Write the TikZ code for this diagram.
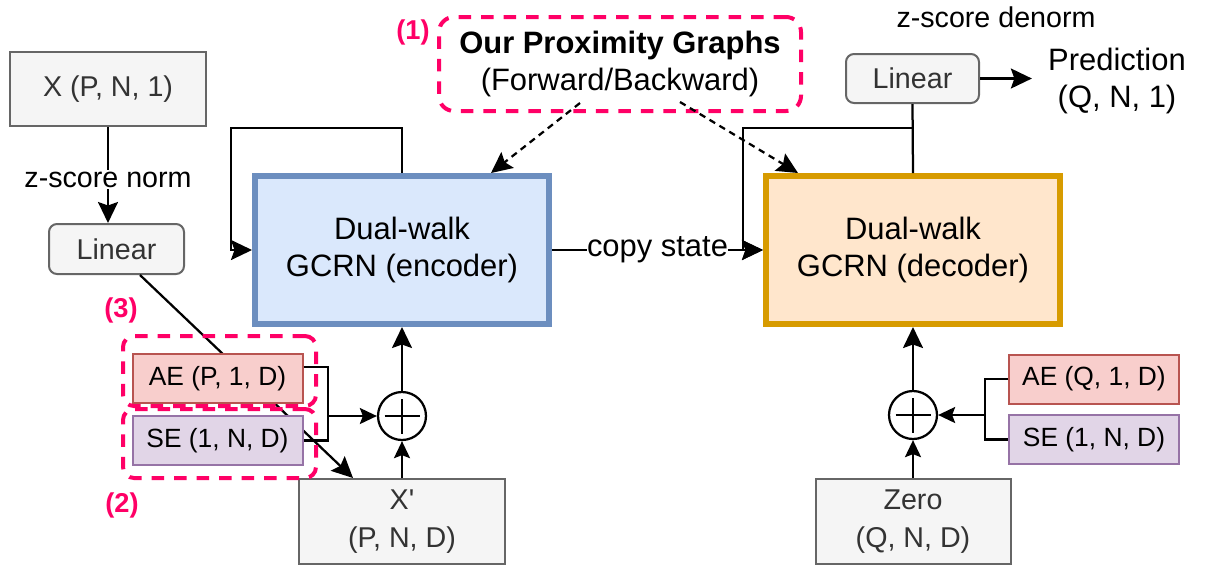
\documentclass[tikz,border=0pt]{standalone}
\usepackage{fontspec}
\setmainfont{Liberation Sans}
\usetikzlibrary{arrows.meta,positioning,calc}
\definecolor{encLine}{HTML}{6C8EBF}
\definecolor{encFill}{HTML}{DAE8FC}
\definecolor{decLine}{HTML}{D79B00}
\definecolor{decFill}{HTML}{FFE6CC}
\definecolor{grayLine}{HTML}{666666}
\definecolor{grayFill}{HTML}{F5F5F5}
\definecolor{grayText}{HTML}{333333}
\definecolor{aeLine}{HTML}{B85450}
\definecolor{aeFill}{HTML}{F8CECC}
\definecolor{seLine}{HTML}{9673A6}
\definecolor{seFill}{HTML}{E1D5E7}
\definecolor{markPink}{HTML}{FF0066}
\newcommand{\primemark}{\XeTeXglyph\XeTeXcharglyph"0027\relax}

\begin{document}
\begin{tikzpicture}[
  font=\fontsize{16.3}{21.6}\selectfont,
  bigfont/.style={font=\fontsize{17.6}{21.6}\selectfont},
  graybox/.style={
    draw=grayLine, fill=grayFill, text=grayText, line width=0.04cm,
    inner sep=0pt, align=center
  },
  gcrn/.style={
    line width=0.12cm, minimum width=5.88cm, minimum height=2.96cm,
    inner sep=0pt, align=center, bigfont
  },
  embbox/.style={
    line width=0.04cm, minimum width=3.4cm, minimum height=0.98cm,
    inner sep=0pt, font=\fontsize{15}{18}\selectfont
  },
  group/.style={draw=markPink, line width=0.08cm, rounded corners=0.22cm,
                dash pattern=on 0.25cm off 0.2cm},
  tagmark/.style={text=markPink, font=\bfseries\fontsize{15.5}{18}\selectfont},
  sumnode/.style={
    circle, draw, line width=0.045cm, minimum size=0.96cm, inner sep=0pt,
    path picture={
      \draw[line width=0.04cm]
        ([xshift=-0.35cm]path picture bounding box.center) -- ([xshift=0.35cm]path picture bounding box.center)
        ([yshift=-0.35cm]path picture bounding box.center) -- ([yshift=0.35cm]path picture bounding box.center);
    }
  },
  line/.style={line width=0.045cm},
  arr/.style={-{Stealth[length=0.42cm,width=0.4cm,inset=0.07cm]}, line width=0.045cm},
  smallarr/.style={-{Stealth[length=0.34cm,width=0.32cm,inset=0.06cm]}, line width=0.045cm},
  dasharr/.style={arr, dash pattern=on 0.13cm off 0.1cm}
]
\useasboundingbox (0,0) rectangle (24.1,-11.36);

% Input side
\node[graybox, minimum width=3.92cm, minimum height=1.48cm] (xin) at (2.16,-1.78) {X (P, N, 1)};
\node[graybox, rounded corners=0.16cm, minimum width=2.7cm, minimum height=1.0cm] (linL) at (2.33,-4.98) {Linear};
\draw[arr] (xin.south) -- node[pos=0.55, fill=white, inner sep=1pt] {z-score norm} (xin.south |- linL.north);

% Encoder / decoder
\node[gcrn, draw=encLine, fill=encFill] (enc) at (8.04,-5.0) {Dual-walk\\GCRN (encoder)};
\node[gcrn, draw=decLine, fill=decFill] (dec) at (18.26,-5.0) {Dual-walk\\GCRN (decoder)};
\draw[arr] (enc.east) -- node[fill=white, inner sep=0pt, bigfont] {copy state} (dec.west);

% Recurrent loops
\draw[arr] (enc.north) -- ++(0,0.9) -- ++(-3.42,0) |- (enc.west);
\node[graybox, rounded corners=0.16cm, minimum width=2.66cm, minimum height=0.98cm] (linR) at (18.25,-1.57) {Linear};
\draw[line] (dec.north) -- (linR.south);
\draw[arr] ([yshift=0.9cm]dec.north) -- ++(-3.4,0) |- (dec.west);

% Output
\node[bigfont, align=center, inner xsep=0.32cm, inner ysep=0pt] (pred) at (22.34,-1.62) {Prediction\\(Q, N, 1)};
\draw[arr] (linR.east) -- (linR.east -| pred.west);
\node (zden) at (19.92,-0.34) {z-score denorm};

% (1) proximity graphs
\node[group, rounded corners=0.3cm, minimum width=7.24cm, minimum height=1.88cm, align=center, bigfont] (prox) at (12.4,-1.28)
  {\textbf{Our Proximity Graphs}\\(Forward/Backward)};
\node[tagmark] (m1) at (8.26,-0.64) {(1)};
\draw[dasharr] ([xshift=-0.8cm,yshift=0.2cm]prox.south) -- ([xshift=1.78cm]enc.north);
\draw[dasharr] ([xshift=1.2cm,yshift=0.22cm]prox.south) -- ([xshift=-2.3cm]dec.north);

% Encoder input
\node[graybox, minimum width=4.12cm, minimum height=1.7cm] (xp) at (8.04,-10.43) {X\primemark\\(P, N, D)};
\node[sumnode] (sum1) at (8.04,-8.32) {};
\draw[arr] ([xshift=0.47cm]linL.south) -- ([xshift=-0.98cm]xp.north);
\node[embbox, draw=aeLine, fill=aeFill] (ae1) at (4.35,-7.57) {AE (P, 1, D)};
\node[embbox, draw=seLine, fill=seFill] (se1) at (4.35,-8.81) {SE (1, N, D)};
\coordinate (jl) at (6.56,-8.32);
\draw[line] ([yshift=0.23cm]ae1.east) -| (jl) |- (se1.east);
\draw[smallarr] (jl) -- (sum1);
\draw[smallarr] (xp) -- (sum1);
\draw[arr] (sum1) -- (enc);

% (2) and (3) groups
\node[group, minimum width=3.86cm, minimum height=1.4cm] (grp3) at (4.39,-7.42) {};
\node[group, minimum width=3.86cm, minimum height=1.38cm] (grp2) at (4.39,-8.87) {};
\node[tagmark] (m3) at (2.42,-6.2) {(3)};
\node[tagmark] (m2) at (2.44,-10.1) {(2)};

% Decoder input
\node[graybox, minimum width=3.9cm, minimum height=1.7cm] (zero) at (18.26,-10.43) {Zero\\(Q, N, D)};
\node[sumnode] (sum2) at (18.26,-8.3) {};
\node[embbox, draw=aeLine, fill=aeFill] (ae2) at (21.88,-7.58) {AE (Q, 1, D)};
\node[embbox, draw=seLine, fill=seFill] (se2) at (21.88,-8.79) {SE (1, N, D)};
\coordinate (jr) at (19.7,-8.3);
\draw[line] (ae2.west) -| (jr) |- (se2.west);
\draw[smallarr] (jr) -- (sum2);
\draw[smallarr] (zero) -- (sum2);
\draw[arr] (sum2) -- (dec);

\end{tikzpicture}
\end{document}
